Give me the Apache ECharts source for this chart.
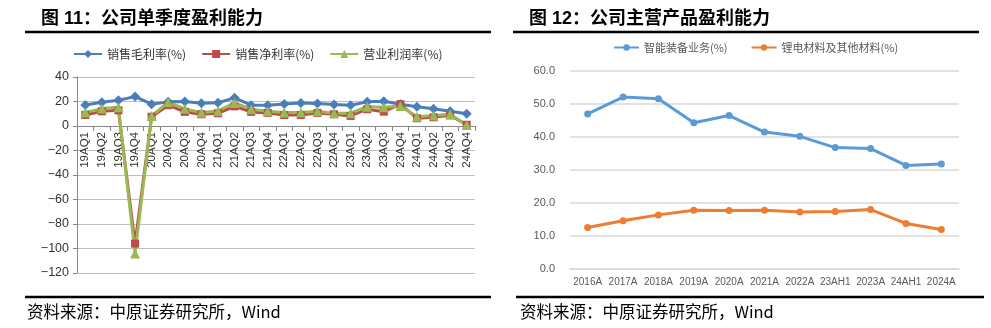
<!DOCTYPE html>
<html>
<head>
<meta charset="utf-8">
<script src="https://cdn.jsdelivr.net/npm/echarts@6/dist/echarts.min.js"></script>
<style>
  html, body { margin: 0; padding: 0; background: #fff; }
  #chart { width: 991px; height: 328px; }
</style>
</head>
<body>
<div id="chart"></div>
<script>
// 图11：单季度盈利能力
const quarters = ['19AQ1','19AQ2','19AQ3','19AQ4','20AQ1','20AQ2','20AQ3','20AQ4',
  '21AQ1','21AQ2','21AQ3','21AQ4','22AQ1','22AQ2','22AQ3','22AQ4',
  '23AQ1','23AQ2','23AQ3','23AQ4','24AQ1','24AQ2','24AQ3','24AQ4'];
const grossMargin = [17.2, 19.4, 21.0, 24.0, 17.8, 19.7, 20.0, 18.6,
  19.0, 23.0, 17.0, 17.0, 18.0, 18.8, 18.3, 17.5,
  17.0, 19.7, 20.2, 17.8, 15.8, 14.0, 12.0, 10.0];
const netMargin = [9.0, 12.0, 12.8, -96.0, 7.6, 17.0, 11.5, 9.6,
  10.4, 16.0, 11.5, 10.7, 9.0, 9.0, 10.7, 9.6,
  8.2, 13.7, 11.7, 17.8, 6.3, 7.1, 8.7, 1.0];
const operatingMargin = [11.0, 14.2, 15.3, -104.0, 8.2, 19.4, 14.0, 11.0,
  12.3, 18.8, 13.7, 12.0, 11.0, 11.0, 12.0, 10.4,
  10.4, 15.8, 15.3, 16.4, 7.6, 8.5, 9.6, 0.8];
const leftYMin = -120;
const leftYMax = 40;

// 图12：主营产品盈利能力
const periods = ['2016A','2017A','2018A','2019A','2020A','2021A','2022A','23AH1','2023A','24AH1','2024A'];
const equipmentMargin = [47.0, 52.1, 51.6, 44.3, 46.5, 41.5, 40.2, 36.8, 36.5, 31.4, 31.8];
const batteryMaterialMargin = [12.6, 14.6, 16.4, 17.8, 17.7, 17.8, 17.3, 17.4, 18.0, 13.8, 12.0];

const LATIN = '"Liberation Sans", Arial, "Noto Sans CJK SC", sans-serif';
const CJK = '"Noto Sans CJK SC", "Liberation Sans", sans-serif';

// left plot area
const G1 = { left: 77, right: 516, top: 77, bottom: 55 };
const plotH1 = 328 - G1.top - G1.bottom;
// category axis sits on the zero line: shift it up from the bottom edge
const zeroShift = plotH1 * (0 - leftYMin) / (leftYMax - leftYMin);

const chart = echarts.init(document.getElementById('chart'), null, { renderer: 'canvas' });

function rule(x1, x2, y) {
  return { type: 'line', shape: { x1: x1, y1: y, x2: x2, y2: y },
    style: { stroke: '#000', lineWidth: 2.5 }, silent: true };
}
function source(x) {
  return { type: 'text', left: x, top: 303,
    style: { text: '资料来源：中原证券研究所，Wind', fill: '#000',
      font: '16.5px ' + CJK } };
}

chart.setOption({
  animation: false,
  title: [
    { text: '图 11：公司单季度盈利能力', left: 36, top: 5,
      textStyle: { fontSize: 18, fontWeight: 'bold', color: '#000', fontFamily: LATIN } },
    { text: '图 12：公司主营产品盈利能力', left: 524, top: 5,
      textStyle: { fontSize: 18, fontWeight: 'bold', color: '#000', fontFamily: LATIN } }
  ],
  legend: [
    { left: 68, top: 43, itemWidth: 28, itemHeight: 10, itemGap: 15,
      data: ['销售毛利率(%)', '销售净利率(%)', '营业利润率(%)'],
      textStyle: { fontSize: 12, color: '#333', fontFamily: CJK } },
    { left: 608, top: 37, itemWidth: 25, itemHeight: 8, itemGap: 23,
      data: ['智能装备业务(%)', '锂电材料及其他材料(%)'],
      textStyle: { fontSize: 11, color: '#595959', fontFamily: CJK } }
  ],
  grid: [
    G1,
    { left: 570, right: 32, top: 71, bottom: 59 }
  ],
  xAxis: [
    { type: 'category', gridIndex: 0, data: quarters, boundaryGap: true,
      position: 'bottom', offset: -zeroShift,
      axisLine: { onZero: false, lineStyle: { color: '#868686', width: 1 } },
      axisTick: { show: true, interval: 0, length: 5, lineStyle: { color: '#868686' } },
      axisLabel: { interval: 0, rotate: 90, margin: 6, fontSize: 11.5, color: '#333', fontFamily: LATIN } },
    { type: 'category', gridIndex: 1, data: periods, boundaryGap: true,
      axisLine: { lineStyle: { color: '#D9D9D9', width: 1.5 } },
      axisTick: { show: false },
      axisLabel: { interval: 0, margin: 8, fontSize: 10, color: '#595959', fontFamily: LATIN } }
  ],
  yAxis: [
    { type: 'value', gridIndex: 0, min: leftYMin, max: leftYMax, interval: 20,
      axisLine: { show: true, lineStyle: { color: '#868686', width: 1 } },
      axisTick: { show: true, length: 4, lineStyle: { color: '#868686' } },
      splitLine: { lineStyle: { color: '#BFBFBF', width: 1 } },
      axisLabel: { margin: 8, fontSize: 12.5, color: '#333', fontFamily: LATIN,
        formatter: v => String(v).replace('-', '\u2212') } },
    { type: 'value', gridIndex: 1, min: 0, max: 60, interval: 10,
      axisLine: { show: false }, axisTick: { show: false },
      splitLine: { lineStyle: { color: '#D9D9D9', width: 1.5 } },
      axisLabel: { margin: 15, fontSize: 11, color: '#595959', fontFamily: LATIN,
        formatter: v => v.toFixed(1) } }
  ],
  series: [
    { name: '销售毛利率(%)', type: 'line', xAxisIndex: 0, yAxisIndex: 0, data: grossMargin,
      symbol: 'diamond', symbolSize: 10, itemStyle: { color: '#4A7EBB' },
      lineStyle: { width: 3, color: '#4A7EBB' } },
    { name: '销售净利率(%)', type: 'line', xAxisIndex: 0, yAxisIndex: 0, data: netMargin,
      symbol: 'rect', symbolSize: 8, itemStyle: { color: '#BE4B48' },
      lineStyle: { width: 3, color: '#BE4B48' } },
    { name: '营业利润率(%)', type: 'line', xAxisIndex: 0, yAxisIndex: 0, data: operatingMargin,
      symbol: 'triangle', symbolSize: 10, itemStyle: { color: '#98B954' },
      lineStyle: { width: 3, color: '#98B954' } },
    { name: '智能装备业务(%)', type: 'line', xAxisIndex: 1, yAxisIndex: 1, data: equipmentMargin,
      symbol: 'circle', symbolSize: 7, itemStyle: { color: '#5B9BD5' },
      lineStyle: { width: 3, color: '#5B9BD5' } },
    { name: '锂电材料及其他材料(%)', type: 'line', xAxisIndex: 1, yAxisIndex: 1, data: batteryMaterialMargin,
      symbol: 'circle', symbolSize: 7, itemStyle: { color: '#ED7D31' },
      lineStyle: { width: 3, color: '#ED7D31' } }
  ],
  graphic: [
    rule(25, 491, 32),
    rule(513, 979, 32),
    rule(25, 491, 297),
    rule(516, 984, 297),
    source(27),
    source(520)
  ]
});
</script>
</body>
</html>
